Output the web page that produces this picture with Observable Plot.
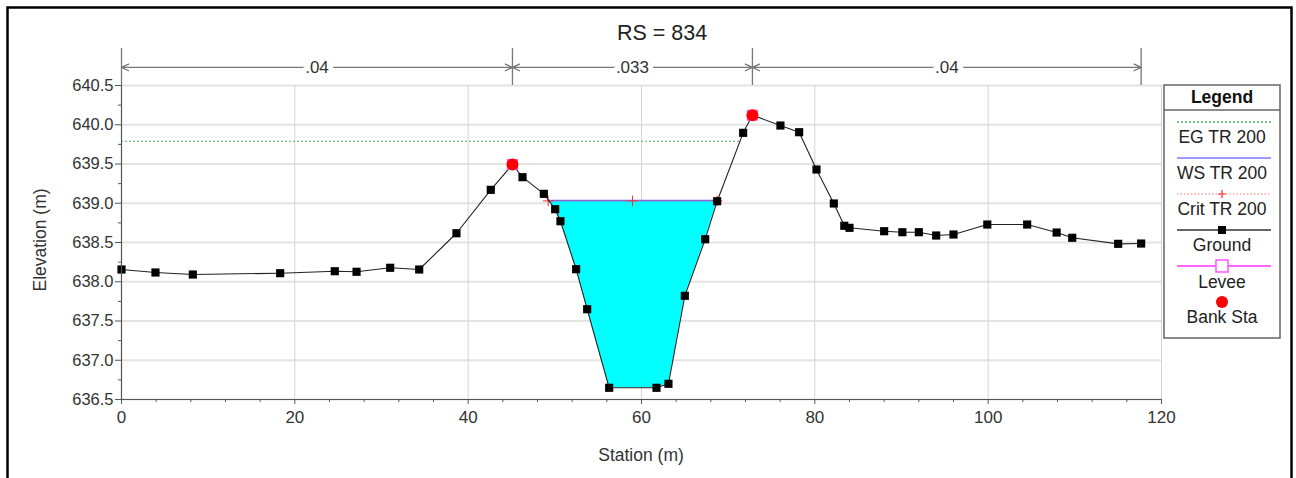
<!DOCTYPE html>
<html><head><meta charset="utf-8">
<script src="https://cdn.jsdelivr.net/npm/d3@7"></script>
<script src="https://cdn.jsdelivr.net/npm/@observablehq/plot@0.6"></script>
<style>
body{margin:0;background:#fff;}
#chart svg{display:block;}
</style></head><body><div id="chart"></div>
<script>
// ---- Data ----
const stations = [0, 3.92, 8.23, 18.31, 24.61, 27.12, 31.0, 34.35, 38.65, 42.61, 45.11, 46.27, 48.73, 50.04, 50.65, 52.46, 53.73, 56.27, 61.73, 63.11, 65.0, 67.35, 68.73, 71.73, 72.8, 76.03, 78.19, 80.19, 82.19, 83.4, 84.0, 88.0, 90.1, 92.0, 94.0, 96.0, 99.9, 104.5, 107.9, 109.7, 115.0, 117.65];
const elevations = [638.156, 638.118, 638.092, 638.109, 638.134, 638.127, 638.178, 638.156, 638.618, 639.171, 639.494, 639.332, 639.12, 638.924, 638.771, 638.16, 637.65, 636.649, 636.649, 636.70, 637.821, 638.542, 639.026, 639.897, 640.122, 639.99, 639.905, 639.43, 638.997, 638.713, 638.687, 638.644, 638.631, 638.631, 638.589, 638.602, 638.729, 638.729, 638.627, 638.56, 638.483, 638.487];
const bankStations = [45.11, 72.8];
const bankElevations = [639.494, 640.122];
const nBreaks = [0, 45.11, 72.8, 117.65];
const nValues = [".04", ".033", ".04"];
const wsElev = 639.035, wsLeft = 49.23, wsRight = 68.73;
const critElev = 639.03;
const critStations = [49.23, 58.96, 68.73];
const egElev = 639.79;
const egStations = [0, 71.36];
const yTicks = [636.5, 637.0, 637.5, 638.0, 638.5, 639.0, 639.5, 640.0, 640.5];
const yMinor = [636.75, 637.25, 637.75, 638.25, 638.75, 639.25, 639.75, 640.25];
const xTicks = [0, 20, 40, 60, 80, 100, 120];
const xMinor = [4, 8, 12, 16, 24, 28, 32, 36, 44, 48, 52, 56, 64, 68, 72, 76, 84, 88, 92, 96, 104, 108, 112, 116];
const title = "RS = 834";
const xLabel = "Station (m)";
const yLabel = "Elevation (m)";
const legendItems = ["EG TR 200", "WS TR 200", "Crit TR 200", "Ground", "Levee", "Bank Sta"];

// ---- Build tables ----
const ground = stations.map((s, i) => ({st: s, el: elevations[i]}));
const banks = bankStations.map((s, i) => ({st: s, el: bankElevations[i]}));
const water = [{st: wsLeft, el: wsElev}, ...ground.filter(d => d.st > wsLeft && d.st < wsRight), {st: wsRight, el: wsElev}];
const spans = nValues.map((n, i) => ({n, a: nBreaks[i], b: nBreaks[i + 1], m: (nBreaks[i] + nBreaks[i + 1]) / 2}));
const yArrow = 640.73, yTopN = 640.97;
const FONT = "'Liberation Sans', Arial, sans-serif";

const chart = Plot.plot({
  width: 1296, height: 478,
  marginLeft: 121, marginRight: 135, marginTop: 85, marginBottom: 79,
  x: {domain: [0, 120], label: null},
  y: {domain: [636.5, 640.5], label: null},
  style: {fontFamily: FONT, fontSize: "16px", color: "#333", background: "white"},
  marks: [
    Plot.gridY(yTicks, {stroke: "#e4e4e4", strokeWidth: 2, strokeOpacity: 1}),
    Plot.gridX(xTicks.slice(1), {stroke: "#d4d4d4", strokeOpacity: 1}),
    Plot.areaY(water, {x: "st", y1: "el", y2: wsElev, fill: "#00ffff"}),
    Plot.ruleY([egElev], {x1: egStations[0], x2: egStations[1], stroke: "#4caf50", strokeDasharray: "2,2", strokeWidth: 1.2}),
    Plot.ruleY([wsElev], {x1: wsLeft, x2: wsRight, stroke: "#6a6aff", strokeWidth: 1.5}),
    Plot.ruleY([critElev], {x1: wsLeft, x2: wsRight, stroke: "#ff5a5a", strokeDasharray: "1.5,2", strokeWidth: 1}),
    Plot.dot(critStations, {x: d => d, y: () => critElev, symbol: "plus", stroke: "#ff3030", r: 3.5, strokeWidth: 1}),
    Plot.line(ground, {x: "st", y: "el", stroke: "#222", strokeWidth: 1.1}),
    Plot.dot(ground, {x: "st", y: "el", symbol: "square", fill: "black", r: 4.6}),
    Plot.dot(banks, {x: "st", y: "el", symbol: "square", fill: "#ff88ff", stroke: "#ff55ff", r: 5.4}),
    Plot.dot(banks, {x: "st", y: "el", fill: "red", r: 6}),
    Plot.ruleX([0], {stroke: "#555", strokeWidth: 1.2}),
    Plot.ruleY([636.5], {stroke: "#555", strokeWidth: 1.2}),
    Plot.axisY(yTicks, {tickSize: 6, tickPadding: 2, tickFormat: d => d.toFixed(1), fontSize: 16.5, stroke: "#555"}),
    Plot.axisY(yMinor, {tickSize: 3, tickFormat: () => "", stroke: "#555"}),
    Plot.axisX(xTicks, {tickSize: 5, tickPadding: 6, tickFormat: d => String(d), fontSize: 17, stroke: "#555"}),
    Plot.axisX(xMinor, {tickSize: 3, tickFormat: () => "", stroke: "#555"}),
    // Manning's n annotation above the plot
    Plot.ruleX(nBreaks, {y1: 640.5, y2: yTopN, stroke: "#777", strokeWidth: 1.3}),
    Plot.arrow(spans, {x1: "m", x2: "a", y1: yArrow, y2: yArrow, stroke: "#777", strokeWidth: 1.3, headLength: 9, headAngle: 50}),
    Plot.arrow(spans, {x1: "m", x2: "b", y1: yArrow, y2: yArrow, stroke: "#777", strokeWidth: 1.3, headLength: 9, headAngle: 50}),
    Plot.text(spans, {x: "m", y: yArrow, text: "n", fill: "#333", stroke: "white", strokeWidth: 10, fontSize: 17})
  ]
});

document.getElementById("chart").appendChild(chart);
const svg = d3.select(chart);

// outer frame
svg.append("rect").attr("x", 7.5).attr("y", 7.5).attr("width", 1284).attr("height", 500)
  .attr("fill", "none").attr("stroke", "#000").attr("stroke-width", 2.5);

// titles
svg.append("text").attr("x", 662).attr("y", 40).attr("text-anchor", "middle")
  .attr("font-family", FONT).attr("font-size", 21.5).attr("fill", "#222").text(title);
svg.append("text").attr("x", 641).attr("y", 461).attr("text-anchor", "middle")
  .attr("font-family", FONT).attr("font-size", 17.5).attr("fill", "#333").text(xLabel);
svg.append("text").attr("transform", "translate(46,240) rotate(-90)").attr("text-anchor", "middle")
  .attr("font-family", FONT).attr("font-size", 17.5).attr("fill", "#333").text(yLabel);

// legend
const L = svg.append("g").attr("font-family", FONT);
const lx0 = 1164, lx1 = 1280, lc = (lx0 + lx1) / 2;
L.append("rect").attr("x", lx0).attr("y", 85).attr("width", lx1 - lx0).attr("height", 253)
  .attr("fill", "white").attr("stroke", "#666").attr("stroke-width", 1.5);
L.append("line").attr("x1", lx0).attr("x2", lx1).attr("y1", 110).attr("y2", 110).attr("stroke", "#666").attr("stroke-width", 1.5);
L.append("text").attr("x", lc).attr("y", 103).attr("text-anchor", "middle").attr("font-weight", "bold")
  .attr("font-size", 17.5).attr("fill", "#111").text("Legend");
const ly = [122, 158, 194, 230, 266, 302];
const ty = [143, 179, 215, 251, 288, 323];
const seg = (y, stroke, w, dash) => L.append("line").attr("x1", 1177).attr("x2", 1271).attr("y1", y).attr("y2", y)
  .attr("stroke", stroke).attr("stroke-width", w).attr("stroke-dasharray", dash || null);
seg(ly[0], "#4caf50", 1.4, "2,2");
seg(ly[1], "#9a9aff", 2);
seg(ly[2], "#ff7070", 1.2, "1.5,2");
L.append("path").attr("d", `M${lc-4},${ly[2]}h8M${lc},${ly[2]-4}v8`).attr("stroke", "#ff3030").attr("stroke-width", 1.2);
seg(ly[3], "#333", 1.3);
L.append("rect").attr("x", lc - 4).attr("y", ly[3] - 4).attr("width", 8).attr("height", 8).attr("fill", "black");
seg(ly[4], "#ff66ff", 2);
L.append("rect").attr("x", lc - 6).attr("y", ly[4] - 6).attr("width", 12).attr("height", 12).attr("fill", "white").attr("stroke", "#ff55ff").attr("stroke-width", 1.5);
L.append("circle").attr("cx", lc).attr("cy", ly[5]).attr("r", 6).attr("fill", "red");
legendItems.forEach((t, i) => L.append("text").attr("x", lc).attr("y", ty[i]).attr("text-anchor", "middle")
  .attr("font-size", 17.5).attr("fill", "#222").text(t));
</script>
</body></html>
